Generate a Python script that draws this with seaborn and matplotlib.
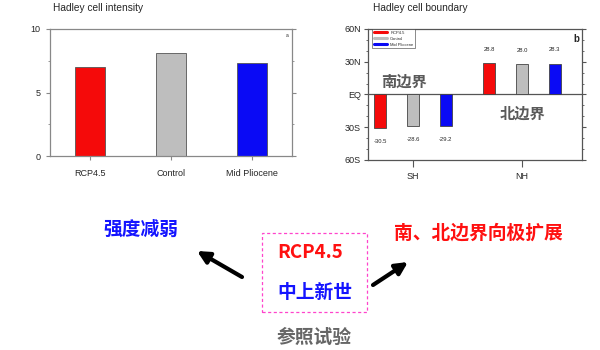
import matplotlib
matplotlib.use("Agg")
import matplotlib.pyplot as plt
from matplotlib.patches import Rectangle, FancyArrowPatch
from matplotlib.lines import Line2D
from matplotlib.ticker import MultipleLocator
import seaborn as sns
import pandas as pd

# ---------------- data ----------------
scenarios = ["RCP4.5", "Control", "Mid Pliocene"]
scenario_colors = ["#f50a0a", "#bebebe", "#0a0af5"]
intensity = [7.0, 8.1, 7.3]

regions = ["SH", "NH"]
boundary_sh = [-30.5, -28.6, -29.2]
boundary_nh = [28.8, 28.0, 28.3]

lat_ticks = [-60, -30, 0, 30, 60]
lat_labels = ["60S", "30S", "EQ", "30N", "60N"]

left_title = "Hadley cell intensity"
right_title = "Hadley cell boundary"
south_label = "南边界"
north_label = "北边界"
weak_text = "强度减弱"
expand_text = "南、北边界向极扩展"
center_lines = ["RCP4.5", "中上新世"]
ref_text = "参照试验"

# ---------------- style ----------------
sns.set_style("ticks")
plt.rcParams["font.family"] = ["Liberation Sans", "DejaVu Sans"]
CJK = ["Noto Sans CJK SC", "DejaVu Sans"]

fig = plt.figure(figsize=(6, 3.5), dpi=100)

def fx(px):
    return px / 600

def fy(py):
    return 1 - py / 350

# ---------------- left: intensity ----------------
axL = fig.add_axes([fx(50), fy(156), fx(292 - 50), (156 - 29) / 350])
dfL = pd.DataFrame({"scenario": scenarios, "value": intensity})
sns.barplot(data=dfL, x="scenario", y="value", hue="scenario",
            palette=scenario_colors, width=0.37, legend=False,
            edgecolor="#555555", linewidth=0.6, saturation=1, ax=axL)
axL.set_xlim(-0.5, 2.5)
axL.set_ylim(0, 10)
axL.set_yticks([0, 5, 10])
axL.yaxis.set_minor_locator(MultipleLocator(2.5))
axL.set_xlabel("")
axL.set_ylabel("")
for s in axL.spines.values():
    s.set_visible(True)
    s.set_color("#888888")
    s.set_linewidth(0.9)
axL.tick_params(axis="both", which="major", labelsize=6.5, length=3,
                color="#888888", width=0.8)
axL.tick_params(axis="y", which="both", right=True, direction="out", pad=4)
axL.tick_params(axis="y", which="minor", length=1.5, color="#888888")
axL.tick_params(axis="x", pad=6)
axL.text(0.985, 0.97, "a", transform=axL.transAxes, fontsize=3.5,
         ha="right", va="top")
fig.text(fx(53), fy(8), left_title, fontsize=7.3, ha="left", va="center")

# ---------------- right: boundary ----------------
axR = fig.add_axes([fx(368), fy(160), fx(582 - 368), (160 - 29) / 350])
dfR = pd.DataFrame({
    "region": [regions[0]] * 3 + [regions[1]] * 3,
    "scenario": scenarios * 2,
    "value": boundary_sh + boundary_nh,
})
sns.barplot(data=dfR, x="region", y="value", hue="scenario",
            hue_order=scenarios, palette=scenario_colors, width=0.9,
            gap=0.64, edgecolor="#444444", linewidth=0.6, saturation=1,
            legend=False, ax=axR)
axR.set_xlim(-0.413, 1.55)
axR.set_ylim(-60, 60)
axR.set_yticks(lat_ticks)
axR.set_yticklabels(lat_labels)
axR.yaxis.set_minor_locator(MultipleLocator(10))
axR.set_xlabel("")
axR.set_ylabel("")
axR.axhline(0, color="#555555", lw=0.9, zorder=0.5)
for s in axR.spines.values():
    s.set_visible(True)
    s.set_color("#555555")
    s.set_linewidth(0.9)
axR.tick_params(axis="both", which="major", labelsize=6.5, length=3,
                color="#555555", width=0.8)
axR.tick_params(axis="y", which="both", right=True, direction="out", pad=2)
axR.tick_params(axis="y", which="minor", length=1.5, color="#555555")
axR.tick_params(axis="x", length=5, pad=4)
for cont in axR.containers:
    vals = [p.get_height() for p in cont.patches]
    lbls = ["%.1f" % v for v in vals]
    pad = 8 if vals[0] < 0 else 6
    axR.bar_label(cont, labels=lbls, padding=pad, fontsize=4.2)
handles = [Line2D([0], [0], color=c, lw=2.2) for c in scenario_colors]
leg = axR.legend(handles, scenarios, loc="upper left",
                 bbox_to_anchor=(0.018, 1.0), borderaxespad=0,
                 fontsize=3, handlelength=3.2, frameon=True,
                 fancybox=False, edgecolor="#333333", borderpad=0.4,
                 labelspacing=0.5)
leg.get_frame().set_linewidth(0.5)
axR.text(0.985, 0.96, "b", transform=axR.transAxes, fontsize=7,
         fontweight="bold", ha="right", va="top")
axR.text(-0.083, 12, south_label, family=CJK, fontsize=11,
         fontweight="bold", color="#5a5a5a", ha="center", va="center")
axR.text(1.004, -17.5, north_label, family=CJK, fontsize=11,
         fontweight="bold", color="#5a5a5a", ha="center", va="center")
fig.text(fx(373), fy(8), right_title, fontsize=7.3, ha="left", va="center")

# ---------------- bottom annotation ----------------
fig.text(fx(140.5), fy(229), weak_text, family=CJK, fontsize=13.5,
         fontweight="bold", color="#1414ff", ha="center", va="center")
fig.text(fx(478.5), fy(233), expand_text, family=CJK, fontsize=13.5,
         fontweight="bold", color="#ff1010", ha="center", va="center")
fig.text(fx(310), fy(253), center_lines[0], family=CJK, fontsize=13.5,
         fontweight="bold", color="#ff1010", ha="center", va="center")
fig.text(fx(315), fy(292), center_lines[1], family=CJK, fontsize=13.5,
         fontweight="bold", color="#1414ff", ha="center", va="center")
fig.text(fx(314), fy(337), ref_text, family=CJK, fontsize=13.5,
         fontweight="bold", color="#666666", ha="center", va="center")
fig.add_artist(Rectangle((fx(262), fy(312)), fx(105), 79 / 350,
                         transform=fig.transFigure, fill=False,
                         edgecolor="#ff44cc", lw=0.9, ls=(0, (2.5, 2))))
for (x0, y0, x1, y1) in [(242, 277, 197, 251), (373, 285, 408, 262)]:
    fig.add_artist(FancyArrowPatch((fx(x0), fy(y0)), (fx(x1), fy(y1)),
                                   transform=fig.transFigure,
                                   arrowstyle="-|>", mutation_scale=18,
                                   lw=3, color="black", shrinkA=0,
                                   shrinkB=0))

fig.savefig("out.png", dpi=100)
